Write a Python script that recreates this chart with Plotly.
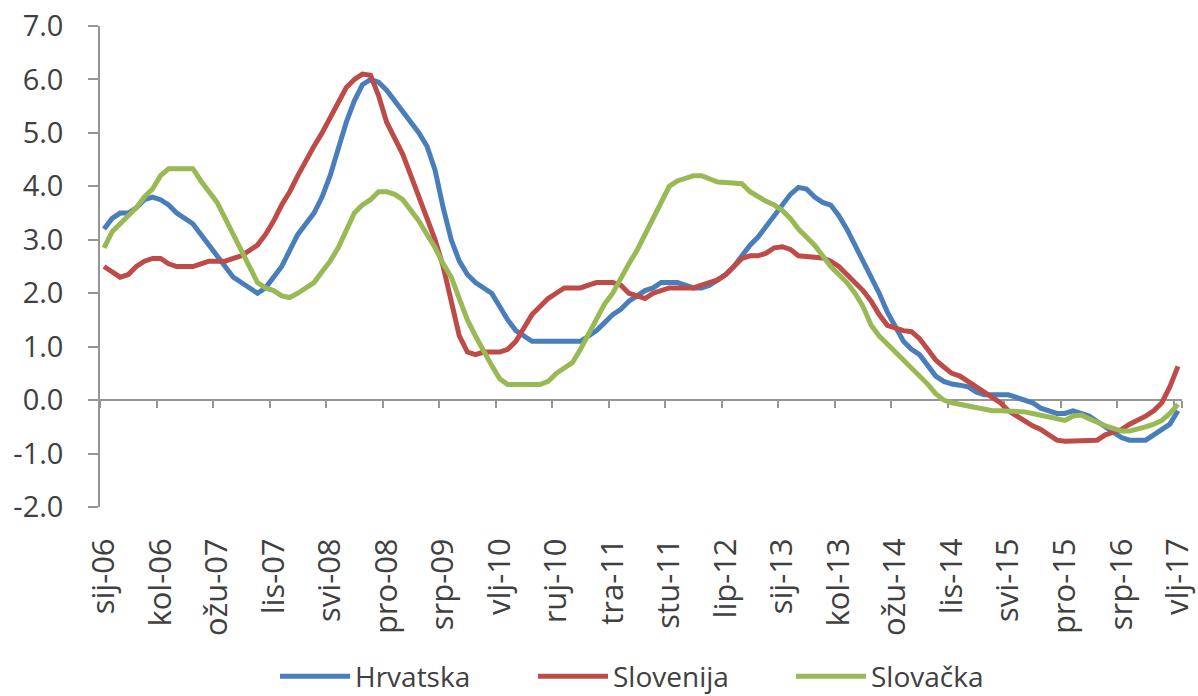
import plotly.graph_objects as go

months = ["sij", "vlj", "ožu", "tra", "svi", "lip", "srp", "kol", "ruj", "lis", "stu", "pro"]
categories = [f"{m}-{y % 100:02d}" for y in range(2006, 2018) for m in months][:134]

tick_labels = ["sij-06", "kol-06", "ožu-07", "lis-07", "svi-08", "pro-08", "srp-09",
               "vlj-10", "ruj-10", "tra-11", "stu-11", "lip-12", "sij-13", "kol-13",
               "ožu-14", "lis-14", "svi-15", "pro-15", "srp-16", "vlj-17"]

y_ticks = [-2, -1, 0, 1, 2, 3, 4, 5, 6, 7]
y_tick_text = ["-2.0", "-1.0", "0.0", "1.0", "2.0", "3.0", "4.0", "5.0", "6.0", "7.0"]

hrvatska = [3.2, 3.4, 3.5, 3.5, 3.6, 3.75, 3.8, 3.75, 3.65, 3.5,
            3.4, 3.3, 3.1, 2.9, 2.7, 2.5, 2.3, 2.2, 2.1, 2.0,
            2.1, 2.3, 2.5, 2.8, 3.1, 3.3, 3.5, 3.8, 4.2, 4.7,
            5.2, 5.6, 5.9, 6.0, 5.95, 5.8, 5.6, 5.4, 5.2, 5.0,
            4.75, 4.3, 3.6, 3.0, 2.6, 2.35, 2.2, 2.1, 2.0, 1.75,
            1.5, 1.3, 1.2, 1.1, 1.1, 1.1, 1.1, 1.1, 1.1, 1.1,
            1.2, 1.3, 1.45, 1.6, 1.7, 1.85, 1.95, 2.05, 2.1, 2.2,
            2.2, 2.2, 2.15, 2.1, 2.1, 2.15, 2.25, 2.35, 2.5, 2.7,
            2.9, 3.05, 3.25, 3.45, 3.65, 3.85, 3.98, 3.95, 3.8, 3.7,
            3.65, 3.45, 3.2, 2.9, 2.65, 2.3, 2.0, 1.65, 1.35, 1.1,
            0.95, 0.85, 0.65, 0.45, 0.35, 0.3, 0.28, 0.25, 0.15, 0.1,
            0.1, 0.1, 0.1, 0.05, 0.0, -0.05, -0.15, -0.2, -0.25, -0.25,
            -0.2, -0.25, -0.3, -0.4, -0.5, -0.6, -0.7, -0.75, -0.75, -0.75,
            -0.65, -0.55, -0.45, -0.2]

slovenija = [2.5, 2.4, 2.3, 2.35, 2.5, 2.6, 2.65, 2.65, 2.55, 2.5,
             2.5, 2.5, 2.55, 2.6, 2.6, 2.6, 2.65, 2.7, 2.8, 2.9,
             3.1, 3.35, 3.65, 3.9, 4.2, 4.5, 4.75, 5.0, 5.3, 5.6,
             5.85, 6.0, 6.1, 6.08, 5.7, 5.2, 4.9, 4.6, 4.2, 3.8,
             3.4, 3.0, 2.5, 1.8, 1.2, 0.9, 0.85, 0.9, 0.9, 0.9,
             0.95, 1.1, 1.35, 1.6, 1.75, 1.9, 2.0, 2.1, 2.1, 2.1,
             2.15, 2.2, 2.2, 2.2, 2.15, 2.0, 1.95, 1.9, 2.0, 2.05,
             2.1, 2.1, 2.1, 2.1, 2.15, 2.2, 2.25, 2.35, 2.5, 2.65,
             2.7, 2.7, 2.75, 2.85, 2.87, 2.82, 2.7, 2.68, 2.66, 2.66,
             2.6, 2.5, 2.35, 2.2, 2.05, 1.85, 1.6, 1.4, 1.35, 1.3,
             1.28, 1.15, 0.95, 0.75, 0.62, 0.5, 0.45, 0.35, 0.25, 0.15,
             0.07, -0.05, -0.2, -0.3, -0.4, -0.48, -0.55, -0.65, -0.75, -0.77,
             -0.77, -0.77, -0.77, -0.75, -0.65, -0.6, -0.55, -0.45, -0.38, -0.3,
             -0.2, -0.05, 0.25, 0.63]

slovacka = [2.85, 3.15, 3.3, 3.45, 3.6, 3.8, 3.95, 4.2, 4.33, 4.33,
            4.33, 4.33, 4.1, 3.9, 3.7, 3.4, 3.1, 2.8, 2.5, 2.2,
            2.1, 2.05, 1.95, 1.92, 2.0, 2.1, 2.2, 2.4, 2.6, 2.85,
            3.15, 3.5, 3.65, 3.75, 3.9, 3.9, 3.85, 3.75, 3.55, 3.35,
            3.1, 2.85, 2.55, 2.3, 1.9, 1.5, 1.2, 0.9, 0.65, 0.4,
            0.29, 0.29, 0.29, 0.29, 0.29, 0.35, 0.5, 0.6, 0.7, 0.95,
            1.25, 1.55, 1.8, 2.0, 2.3, 2.55, 2.8, 3.1, 3.4, 3.7,
            4.0, 4.1, 4.15, 4.2, 4.2, 4.15, 4.08, 4.07, 4.07, 4.05,
            3.9, 3.8, 3.72, 3.65, 3.55, 3.4, 3.2, 3.05, 2.9, 2.7,
            2.5, 2.35, 2.2, 2.0, 1.75, 1.4, 1.2, 1.05, 0.9, 0.75,
            0.62, 0.45, 0.3, 0.12, 0.0, -0.05, -0.08, -0.1, -0.15, -0.18,
            -0.2, -0.2, -0.2, -0.2, -0.22, -0.25, -0.28, -0.3, -0.33, -0.38,
            -0.3, -0.28, -0.35, -0.42, -0.48, -0.53, -0.58, -0.58, -0.55, -0.5,
            -0.45, -0.38, -0.25, -0.08]

series = [("Hrvatska", hrvatska, "#4A7EBB"),
          ("Slovenija", slovenija, "#BE4B48"),
          ("Slovačka", slovacka, "#98B954")]

FONT = "Open Sans"
TXT = "#404040"
AX = "#969696"

fig = go.Figure()
for name, vals, col in series:
    fig.add_trace(go.Scatter(x=categories, y=vals, name=name, mode="lines",
                             line=dict(color=col, width=5), xaxis="x", yaxis="y"))

# invisible carrier trace for the label axis at the bottom
fig.add_trace(go.Scatter(x=categories, y=hrvatska, mode="lines", line=dict(width=0),
                         opacity=0, showlegend=False, hoverinfo="skip",
                         xaxis="x2", yaxis="y"))

y_min, y_max = y_ticks[0], y_ticks[-1]

fig.update_layout(
    width=1198, height=696,
    margin=dict(l=100, r=16, t=26, b=189, autoexpand=False),
    paper_bgcolor="white", plot_bgcolor="white",
    font=dict(family=FONT, color=TXT),
    showlegend=True,
    legend=dict(orientation="h", xref="container", yref="container",
                x=275 / 1198, xanchor="left", y=0.028, yanchor="middle",
                font=dict(size=28, family=FONT, color=TXT),
                itemwidth=70, entrywidth=173, entrywidthmode="pixels",
                bgcolor="rgba(0,0,0,0)"),
    xaxis=dict(type="category", categoryorder="array", categoryarray=categories,
               range=[-0.5, len(categories) - 0.5],
               anchor="free", position=(0 - y_min) / (y_max - y_min),
               showline=True, linecolor=AX, linewidth=1.5,
               ticks="outside", ticklen=7, tickcolor=AX, tickwidth=1.5,
               tickmode="array", tickvals=tick_labels, tickson="boundaries",
               showticklabels=False, showgrid=False, zeroline=False,
               layer="below traces", automargin=False),
    xaxis2=dict(type="category", overlaying="x", matches="x", anchor="y", side="bottom",
                tickmode="array", tickvals=tick_labels, ticktext=tick_labels,
                tickangle=-90, ticks="outside", ticklen=18, tickcolor="rgba(0,0,0,0)",
                tickfont=dict(size=31, family=FONT, color=TXT),
                showline=False, showgrid=False, zeroline=False, automargin=False),
    yaxis=dict(range=[y_min, y_max], tickmode="array", tickvals=y_ticks, ticktext=y_tick_text,
               showline=True, linecolor=AX, linewidth=1.5,
               ticks="outside", ticklen=10, tickcolor=AX, tickwidth=1.5,
               ticklabelstandoff=19,
               tickfont=dict(size=29, family=FONT, color=TXT),
               showgrid=False, zeroline=False, layer="below traces", automargin=False),
)

fig.write_html("out.html", config={"displayModeBar": False},
               post_script="document.body.style.margin='0px';")
